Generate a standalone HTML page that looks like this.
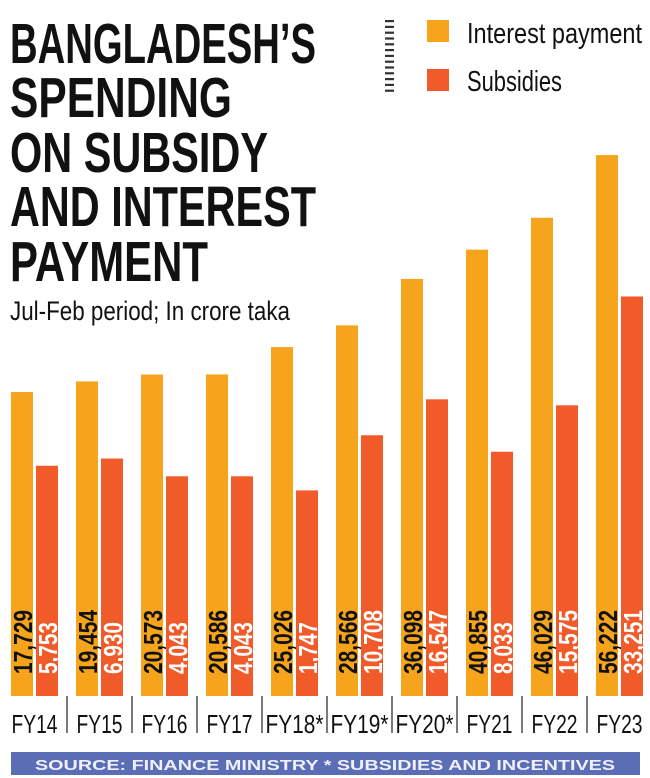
<!DOCTYPE html>
<html><head><meta charset="utf-8"><style>
html,body{margin:0;padding:0;background:#fff;}
svg{display:block;font-family:"Liberation Sans Narrow","Liberation Sans",sans-serif;}
</style></head><body>
<svg id="chart" width="650" height="778" viewBox="0 0 650 778">
<g font-weight="bold" font-size="57" fill="#111">
<text x="10" y="63" textLength="306" lengthAdjust="spacingAndGlyphs">BANGLADESH’S</text>
<text x="10" y="117" textLength="222" lengthAdjust="spacingAndGlyphs">SPENDING</text>
<text x="10" y="172" textLength="258" lengthAdjust="spacingAndGlyphs">ON SUBSIDY</text>
<text x="10" y="226" textLength="306" lengthAdjust="spacingAndGlyphs">AND INTEREST</text>
<text x="10" y="281" textLength="198" lengthAdjust="spacingAndGlyphs">PAYMENT</text>
</g>
<text x="10" y="320" font-size="27" fill="#111" textLength="280" lengthAdjust="spacingAndGlyphs">Jul-Feb period; In crore taka</text>
<g>
<g id="lticks"></g>
<rect x="427" y="20" width="22" height="22" fill="#f5a41c"/>
<text x="467" y="43" font-size="29" fill="#111" textLength="175" lengthAdjust="spacingAndGlyphs">Interest payment</text>
<rect x="427" y="69" width="22" height="22" fill="#f15a29"/>
<text x="467" y="91" font-size="29" fill="#111" textLength="95" lengthAdjust="spacingAndGlyphs">Subsidies</text>
</g>
<g id="bars"></g>
<rect x="11" y="752" width="629" height="23" fill="#5b6db5"/>
<text x="325" y="770" text-anchor="middle" font-size="15" font-weight="bold" fill="#eef0fa" textLength="580" lengthAdjust="spacingAndGlyphs" font-family="Liberation Sans, sans-serif">SOURCE: FINANCE MINISTRY * SUBSIDIES AND INCENTIVES</text>
</svg>
<script>
const categories = ["FY14","FY15","FY16","FY17","FY18*","FY19*","FY20*","FY21","FY22","FY23"];
const interestValues = [17729,19454,20573,20586,25026,28566,36098,40855,46029,56222];
const subsidyValues = [5753,6930,4043,4043,1747,10708,16547,8033,15575,33251];
const valueLabelsInterest = ["17,729","19,454","20,573","20,586","25,026","28,566","36,098","40,855","46,029","56,222"];
const valueLabelsSubsidy = ["5,753","6,930","4,043","4,043","1,747","10,708","16,547","8,033","15,575","33,251"];

const NS = "http://www.w3.org/2000/svg";
const baseY = 696, groupX0 = 11, step = 65, bw = 22;
function yScale(v){ return baseY - (194.8 + v * 0.006157); }
function xGroup(i){ return groupX0 + i * step; }

const lt = document.getElementById('lticks');
for (let k = 0; k < 13; k++) {
  const r = document.createElementNS(NS,'rect');
  r.setAttribute('x', 385); r.setAttribute('y', 20 + k*5.8); r.setAttribute('width', 9); r.setAttribute('height', 2.2); r.setAttribute('fill', '#333');
  
  
  lt.appendChild(r);
}

const g = document.getElementById('bars');
function mk(tag, attrs){ const e = document.createElementNS(NS, tag); for (const k in attrs) e.setAttribute(k, attrs[k]); g.appendChild(e); return e; }
categories.forEach((c, i) => {
  const x = xGroup(i);
  const yi = yScale(interestValues[i]), ys = yScale(subsidyValues[i]);
  const b1 = mk('rect', {x: x, y: yi, width: bw, height: baseY - yi, fill: '#f5a41c'});
  
  
  const b2 = mk('rect', {x: x + 25, y: ys, width: bw, height: baseY - ys, fill: '#f15a29'});
  
  
  const t1 = mk('text', {x: 0, y: 0, 'font-size': 26, 'font-weight': 'bold', fill: '#111', textLength: 64, lengthAdjust: 'spacingAndGlyphs', transform: `translate(${x + bw/2 + 10},${baseY - 22}) rotate(-90)`});
  t1.textContent = valueLabelsInterest[i];
  
  
  const len2 = valueLabelsSubsidy[i].length > 5 ? 64 : 52;
  const t2 = mk('text', {x: 0, y: 0, 'font-size': 26, 'font-weight': 'bold', fill: '#fff', textLength: len2, lengthAdjust: 'spacingAndGlyphs', transform: `translate(${x + 25 + bw/2 + 10},${baseY - 22}) rotate(-90)`});
  t2.textContent = valueLabelsSubsidy[i];
  
  
  const lab = mk('text', {x: x + 23.5, y: 733, 'text-anchor': 'middle', 'font-size': 26, fill: '#111', textLength: c.length > 4 ? 58 : 46, lengthAdjust: 'spacingAndGlyphs'});
  lab.textContent = c;
  
  
  if (i > 0) {
    const s = mk('line', {x1: x - 9, x2: x - 9, y1: 696, y2: 733, stroke: '#222', 'stroke-width': 1.2});
    
    
  }
});
</script>
</body></html>
